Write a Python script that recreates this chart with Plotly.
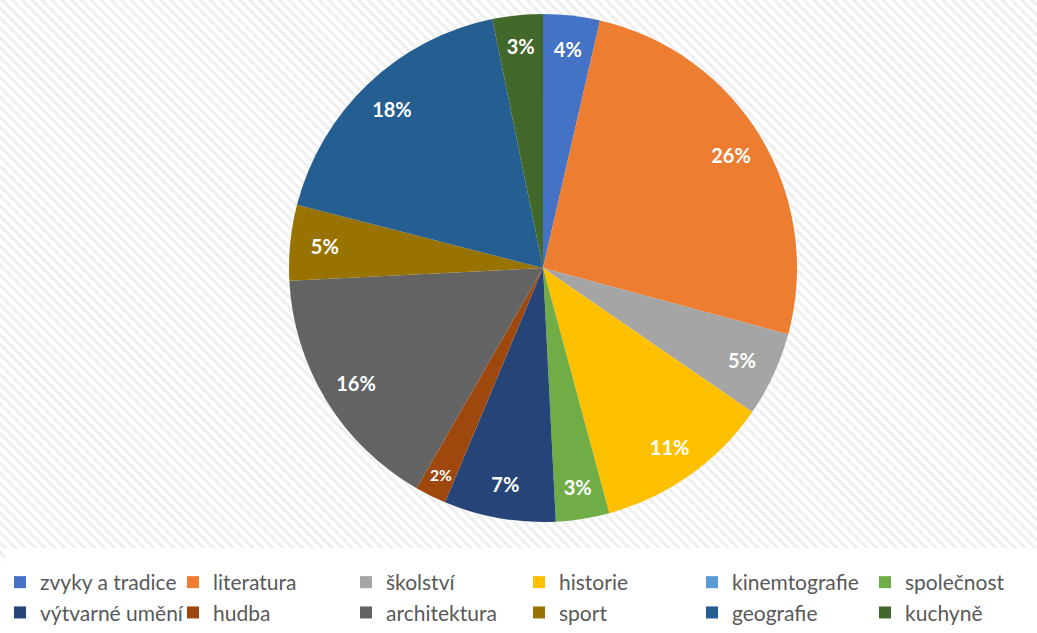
import base64
import plotly.graph_objects as go

categories = ["zvyky a tradice", "literatura", "školství", "historie", "kinemtografie",
              "společnost", "výtvarné umění", "hudba", "architektura", "sport",
              "geografie", "kuchyně"]
values = [3.6, 25.6, 5.4, 11.2, 0, 3.4, 7.1, 2.0, 15.9, 4.8, 17.8, 3.2]
colors = ["#4472C4", "#ED7D31", "#A5A5A5", "#FFC000", "#5B9BD5", "#70AD47",
          "#264478", "#9E480E", "#636363", "#997300", "#255E91", "#43682B"]

W, H = 1037, 633

svg = (
    f'<svg xmlns="http://www.w3.org/2000/svg" width="{W}" height="{H}">'
    '<defs><pattern id="p" width="7" height="7" patternUnits="userSpaceOnUse" '
    'patternTransform="rotate(-45)">'
    '<rect width="7" height="7" fill="#ffffff"/>'
    '<rect width="3" height="7" fill="#efefef"/></pattern></defs>'
    f'<rect width="{W}" height="{H}" fill="url(#p)"/></svg>'
)
bg_src = "data:image/svg+xml;base64," + base64.b64encode(svg.encode()).decode()

# colored pie: centre (543, 268) px, radius ~254 px
dom_x = [0.2787, 0.7686]
dom_y = [0.1754, 0.9779]
# invisible ring carrying the labels, same centre, radius 245 px, hole ~195 px
txt_x = [0.2874, 0.7599]
txt_y = [0.1896, 0.9637]

fig = go.Figure()
fig.add_trace(go.Pie(
    labels=categories, values=values, sort=False, direction="clockwise",
    rotation=0, domain=dict(x=dom_x, y=dom_y),
    marker=dict(colors=colors, line=dict(width=0)),
    textinfo="none", hoverinfo="label+percent", showlegend=True,
))
fig.add_trace(go.Pie(
    labels=categories, values=values, sort=False, direction="clockwise",
    rotation=0, domain=dict(x=txt_x, y=txt_y), hole=0.79,
    marker=dict(colors=["rgba(0,0,0,0)"] * len(categories), line=dict(width=0)),
    textinfo="percent", textposition="inside", insidetextorientation="horizontal",
    texttemplate="%{percent:.0%}",
    textfont=dict(family="Lato, Open Sans, sans-serif", size=20, color="white", weight="bold"),
    hoverinfo="skip", showlegend=False,
))

fig.update_layout(
    width=W, height=H,
    margin=dict(l=0, r=0, t=0, b=0),
    paper_bgcolor="white", plot_bgcolor="white",
    images=[dict(source=bg_src, xref="paper", yref="paper", x=0, y=1,
                 sizex=1, sizey=1, sizing="stretch", layer="below")],
    shapes=[dict(type="rect", xref="paper", yref="paper", x0=0.005, x1=1, y0=0, y1=0.134,
                 fillcolor="white", line=dict(width=0), layer="below")],
    legend=dict(orientation="h", x=0.004, xanchor="left", y=0.0, yanchor="bottom",
                bgcolor="white", entrywidth=128, traceorder="normal",
                font=dict(family="Lato, Open Sans, sans-serif", size=21, color="#595959"),
                itemwidth=30),
)
fig.write_html("out.html", config={"displayModeBar": False},
               post_script="document.body.style.margin='0';")
